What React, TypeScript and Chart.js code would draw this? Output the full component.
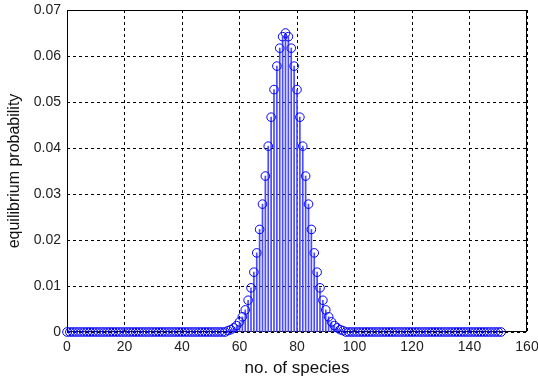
import { useEffect, useRef } from "react";
import { Chart, registerables } from "chart.js";

Chart.register(...registerables);

// equilibrium probability for each number of species (0..151)
const probability: number[] = [
  // 0..55
  0, 0, 0, 0, 0, 0, 0, 0, 0, 0,
  0, 0, 0, 0, 0, 0, 0, 0, 0, 0,
  0, 0, 0, 0, 0, 0, 0, 0, 0, 0,
  0, 0, 0, 0, 0, 0, 0, 0, 0, 0,
  0, 0, 0, 0, 0, 0, 0, 0, 0, 0,
  0, 0, 0, 0, 0, 0,
  // 56..96
  0.0003, 0.0005, 0.0009, 0.0014, 0.0022, 0.0033, 0.0048, 0.0069, 0.0096, 0.013,
  0.0172, 0.0223, 0.0278, 0.0339, 0.0404, 0.0467, 0.0527, 0.0578, 0.0617, 0.0642,
  0.065, 0.0642, 0.0617, 0.0578, 0.0527, 0.0467, 0.0404, 0.0339, 0.0278, 0.0223,
  0.0172, 0.013, 0.0096, 0.0069, 0.0048, 0.0033, 0.0022, 0.0014, 0.0009, 0.0005,
  0.0003,
  // 97..151
  0, 0, 0, 0, 0, 0, 0, 0, 0, 0,
  0, 0, 0, 0, 0, 0, 0, 0, 0, 0,
  0, 0, 0, 0, 0, 0, 0, 0, 0, 0,
  0, 0, 0, 0, 0, 0, 0, 0, 0, 0,
  0, 0, 0, 0, 0, 0, 0, 0, 0, 0,
  0, 0, 0, 0, 0,
];
const speciesCounts: number[] = probability.map((_, i) => i);

const xTickValues = [0, 20, 40, 60, 80, 100, 120, 140, 160];
const yTickValues = [0, 0.01, 0.02, 0.03, 0.04, 0.05, 0.06, 0.07];

const xTitle = "no. of species";
const yTitle = "equilibrium probability";

const points = speciesCounts.map((x, i) => ({ x, y: probability[i] }));

const FONT = "'Liberation Sans', Arial, sans-serif";

const boxPlugin = {
  id: "matlabBox",
  beforeDatasetsDraw(chart: any) {
    const { ctx, chartArea } = chart;
    const { left, top, right, bottom } = chartArea;
    ctx.save();
    ctx.strokeStyle = "#000";
    ctx.lineWidth = 1;
    ctx.strokeRect(Math.round(left) + 0.5, Math.round(top) + 0.5, Math.round(right - left) - 1, Math.round(bottom - top) - 1);
    ctx.restore();
  },
};

export default function App() {
  const canvasRef = useRef<HTMLCanvasElement | null>(null);

  useEffect(() => {
    if (!canvasRef.current) return;
    const chart = new Chart(canvasRef.current, {
      type: "bar",
      data: {
        datasets: [
          {
            type: "line",
            data: points,
            showLine: false,
            pointStyle: "circle",
            pointRadius: 4.3,
            pointBorderWidth: 1,
            pointBorderColor: "#0000ff",
            pointBackgroundColor: "rgba(0,0,0,0)",
            clip: false,
            order: 0,
          } as any,
          {
            type: "bar",
            data: points,
            backgroundColor: "#4a4aff",
            borderWidth: 0,
            barThickness: 1,
            order: 1,
          } as any,
        ],
      },
      options: {
        animation: false,
        responsive: false,
        maintainAspectRatio: false,
        layout: { padding: { top: 10, right: 11, left: 0, bottom: 0 } },
        plugins: {
          legend: { display: false },
          tooltip: { enabled: false },
        },
        scales: {
          x: {
            type: "linear",
            offset: false,
            min: xTickValues[0],
            max: xTickValues[xTickValues.length - 1],
            afterBuildTicks: (scale: any) => {
              scale.ticks = xTickValues.map((v) => ({ value: v }));
            },
            afterFit: (scale: any) => {
              scale.height = 47;
              scale.paddingLeft = 0;
              scale.paddingRight = 0;
            },
            ticks: {
              color: "#222",
              padding: 7,
              maxRotation: 0,
              autoSkip: false,
              font: { family: FONT, size: 14 },
            },
            grid: { color: "#000", lineWidth: 1, drawTicks: false, offset: false },
            border: { display: false, dash: [3, 3] },
            title: {
              display: true,
              text: xTitle,
              color: "#111",
              padding: { top: 0, bottom: 0 },
              font: { family: FONT, size: 17 },
            },
          },
          y: {
            type: "linear",
            min: yTickValues[0],
            max: yTickValues[yTickValues.length - 1],
            afterBuildTicks: (scale: any) => {
              scale.ticks = yTickValues.map((v) => ({ value: v }));
            },
            afterFit: (scale: any) => {
              scale.width = 67;
              scale.paddingTop = 0;
              scale.paddingBottom = 0;
            },
            ticks: {
              color: "#222",
              padding: 6,
              autoSkip: false,
              callback: (v: any) => String(Number(v)),
              font: { family: FONT, size: 14 },
            },
            grid: { color: "#000", lineWidth: 1, drawTicks: false },
            border: { display: false, dash: [3, 3] },
            title: {
              display: true,
              text: yTitle,
              color: "#111",
              padding: { top: 5, bottom: 0 },
              font: { family: FONT, size: 16 },
            },
          },
        },
      } as any,
      plugins: [boxPlugin],
    });
    return () => chart.destroy();
  }, []);

  return (
    <div style={{ position: "fixed", left: 0, top: 0, width: 538, height: 379, background: "#fff" }}>
      <canvas ref={canvasRef} width={538} height={379} style={{ width: 538, height: 379, display: "block" }} />
    </div>
  );
}
